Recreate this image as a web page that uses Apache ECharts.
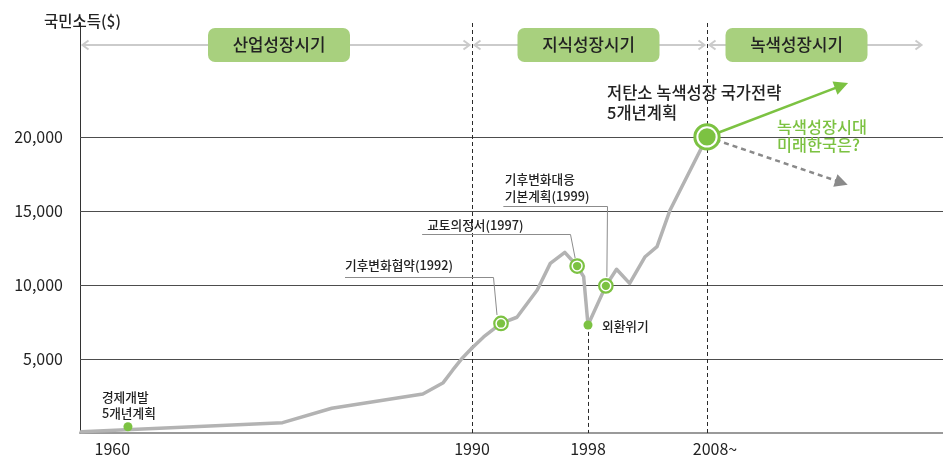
<!DOCTYPE html>
<html><head><meta charset="utf-8">
<script src="https://cdn.jsdelivr.net/npm/echarts@6/dist/echarts.min.js"></script>
<style>html,body{margin:0;padding:0;background:#fff}#c{width:943px;height:459px}</style>
</head><body><div id="c"></div>
<script>
// ---------------- data ----------------
const curveYears  = [1957.4, 1974.2, 1978.3, 1985.9, 1987.6, 1988.4, 1989.2, 1990, 1990.8, 1992, 1993.1, 1994.5, 1995.4, 1996.4, 1997.25, 1997.7, 1998, 1999.5, 2000.4, 2001.5, 2002.8, 2003.8, 2004.9, 2008];
const curveValues = [90, 700, 1670, 2640, 3400, 4260, 5070, 5740, 6490, 7400, 7820, 9660, 11460, 12200, 11280, 10560, 7300, 9940, 11060, 10110, 11910, 12590, 15070, 20000];
const yTicks = [5000, 10000, 15000, 20000];
const xTickYears = [1960, 1990, 1998, 2008];
const xTickLabels = ['1960', '1990', '1998', '2008~'];
const periodNames = ['산업성장시기', '지식성장시기', '녹색성장시기'];
const periodBreaks = [1990, 2008];
const milestoneYears  = [1992, 1997.25, 1999.5];
const milestoneValues = [7400, 11280, 9940];
const milestoneTexts  = ['기후변화협약(1992)', '교토의정서(1997)', '기후변화대응\n기본계획(1999)'];
const planYear = 1961.3, planValue = 420, planText = '경제개발\n5개년계획';
const crisisYear = 1998, crisisValue = 7300, crisisText = '외환위기';
const greenYear = 2008, greenValue = 20000, greenText = '저탄소 녹색성장 국가전략\n5개년계획';
const futureText = '녹색성장시대\n미래한국은?';
const futureUpEnd = [2019.4, 23470];
const futureDownEnd = [2019.4, 16920];
const yTitle = '국민소득($)';

// ---------------- layout / style ----------------
const FONT = "'Noto Sans CJK KR', 'Noto Sans', sans-serif";
const GREEN = '#7cc242';
const BOX_GREEN = '#a8d07e';
const CURVE = '#b3b3b3';
const segYears = [1957.3, 1990, 1998, 2008, 2028];   // piecewise axis ranges
const segPx = [80, 472, 588, 707, 943];
const GRID_TOP = 23, GRID_BOTTOM = 26, YMAX = 27700;

const segOf = y => { let k = 0; while (k < 3 && y > segYears[k + 1]) k++; return k; };
const segOfTick = y => { let k = 0; while (k < 3 && y >= segYears[k + 1]) k++; return k; };
const inSeg = (k, y) => y >= segYears[k] && y <= segYears[k + 1];

const curvePts = curveYears.map((y, i) => [y, curveValues[i]]);

const ringItems = milestoneYears.map((y, i) => ({ value: [y, milestoneValues[i]], symbolSize: 13.5, border: 2.2 }))
  .concat([{ value: [greenYear, greenValue], symbolSize: 24.3, border: 3 }]);
const dotItems = [{ value: [planYear, planValue], symbolSize: 9 }, { value: [crisisYear, crisisValue], symbolSize: 9 }]
  .concat(milestoneYears.map((y, i) => ({ value: [y, milestoneValues[i]], symbolSize: 8.3 })))
  .concat([{ value: [greenYear, greenValue], symbolSize: 17.3 }]);

const grids = [], xAxes = [], yAxes = [], series = [];
const dashed = { color: '#2a2a2a', width: 1, type: [4, 3] };
for (let k = 0; k < 4; k++) {
  grids.push({ left: segPx[k], width: segPx[k + 1] - segPx[k], top: GRID_TOP, bottom: GRID_BOTTOM, containLabel: false, outerBoundsMode: 'none' });
  const tickIdx = xTickYears.map((y, i) => i).filter(i => segOfTick(xTickYears[i]) === k);
  xAxes.push({
    gridIndex: k, type: 'value', min: segYears[k], max: segYears[k + 1],
    axisLine: { show: true, onZero: false, lineStyle: { color: '#9a9a9a', width: 2 } },
    axisTick: { show: false }, splitLine: { show: false },
    axisLabel: {
      show: tickIdx.length > 0,
      customValues: tickIdx.map(i => xTickYears[i]),
      formatter: v => { const i = xTickYears.indexOf(v); if (i < 0) return ''; return xTickLabels[i].includes('~') ? '{p|' + xTickLabels[i] + '}' : xTickLabels[i]; },
      rich: { p: { padding: [0, 0, 0, 16], fontSize: 16, color: '#222', fontFamily: FONT } },
      fontSize: 16, color: '#222', fontFamily: FONT, margin: 8
    }
  });
  yAxes.push({
    gridIndex: k, type: 'value', min: 0, max: YMAX, show: k === 0,
    axisLine: { show: true, lineStyle: { color: '#333', width: 1 } },
    axisTick: { show: false }, splitLine: { show: false },
    axisLabel: { customValues: yTicks, formatter: v => v.toLocaleString('en-US'), fontSize: 16, color: '#222', fontFamily: FONT, margin: 17 }
  });

  const ml = yTicks.map(v => ({ yAxis: v, lineStyle: { color: '#4d4d4d', width: 1, type: 'solid' } }));
  if (k === 1) ml.push({ xAxis: periodBreaks[0], lineStyle: dashed });
  if (k === 2) ml.push([{ coord: [crisisYear, crisisValue] }, { coord: [crisisYear, 0] , lineStyle: dashed}]);
  if (k === 3) {
    ml.push({ xAxis: periodBreaks[1], lineStyle: dashed });
    ml.push([{ coord: [greenYear, greenValue], symbol: 'none', lineStyle: { color: GREEN, width: 2.5, type: 'solid' } },
             { coord: futureUpEnd, symbol: 'triangle', symbolSize: 14 }]);
    ml.push([{ coord: [greenYear, greenValue], symbol: 'none', lineStyle: { color: '#8a8a8a', width: 2.5, type: [5, 4] } },
             { coord: futureDownEnd, symbol: 'triangle', symbolSize: 13 }]);
  }
  series.push({
    type: 'line', xAxisIndex: k, yAxisIndex: k, z: 3,
    data: curvePts.filter(p => inSeg(k, p[0])),
    symbol: 'none', showSymbol: false, silent: true,
    lineStyle: { color: CURVE, width: 3.5, cap: 'round', join: 'round' },
    markLine: { silent: true, z: 1, symbol: 'none', label: { show: false }, animation: false, data: ml }
  });
  series.push({
    type: 'scatter', xAxisIndex: k, yAxisIndex: k, z: 10, clip: false, silent: true,
    data: ringItems.filter(d => segOf(d.value[0]) === k).map(d => ({
      value: d.value, symbolSize: d.symbolSize,
      itemStyle: { color: '#fff', borderColor: GREEN, borderWidth: d.border, opacity: 1 }
    }))
  });
  series.push({
    type: 'scatter', xAxisIndex: k, yAxisIndex: k, z: 11, clip: false, silent: true,
    data: dotItems.filter(d => segOf(d.value[0]) === k).map(d => ({
      value: d.value, symbolSize: d.symbolSize, itemStyle: { color: GREEN, opacity: 1 }
    }))
  });
}

const chart = echarts.init(document.getElementById('c'), null, { renderer: 'canvas' });
chart.setOption({
  animation: false,
  backgroundColor: '#fff',
  textStyle: { fontFamily: FONT },
  title: { text: yTitle, left: 39, top: 8, textStyle: { fontSize: 15.5, fontWeight: 500, color: '#222', fontFamily: FONT } },
  grid: grids, xAxis: xAxes, yAxis: yAxes, series: series
});

// ---------- annotations anchored on data points ----------
const P = (y, v) => { const k = segOf(y); return chart.convertToPixel({ xAxisIndex: k, yAxisIndex: k }, [y, v]); };
const g = [];
const txt = (x, y, text, size, color, lh, align) => ({
  type: 'text', x: x, y: y, z: 20,
  style: { text: text, align: align || 'left', verticalAlign: 'middle', fontSize: size, fontWeight: 500, lineHeight: lh || Math.round(size * 1.3), fontFamily: FONT, fill: color }
});
// banner
const bandY = 45;
const edges = [segPx[0]].concat(periodBreaks.map(y => P(y, 0)[0])).concat([segPx[4] - 19]);
const labelShift = [3, -1, -19];
periodNames.forEach((name, i) => {
  const x0 = edges[i] + 2.5, x1 = edges[i + 1] - 2.5;
  const st = { stroke: '#cbcbcb', lineWidth: 2, fill: 'none' };
  g.push({ type: 'line', z: 5, shape: { x1: x0, y1: bandY, x2: x1, y2: bandY }, style: st });
  g.push({ type: 'polyline', z: 5, shape: { points: [[x0 + 6, bandY - 4.5], [x0, bandY], [x0 + 6, bandY + 4.5]] }, style: st });
  g.push({ type: 'polyline', z: 5, shape: { points: [[x1 - 6, bandY - 4.5], [x1, bandY], [x1 - 6, bandY + 4.5]] }, style: st });
  const cx = (x0 + x1) / 2 + labelShift[i];
  g.push({ type: 'rect', z: 9, shape: { x: cx - 71, y: bandY - 17, width: 142, height: 34, r: 7 }, style: { fill: BOX_GREEN } });
  g.push(txt(cx, bandY, name, 16.8, '#222', 20, 'center'));
});
// milestone leaders
const leaderLayout = [
  { tx: -156, ty: -58, sx: -156, ly: -46, kx: -8, ex: -4, ey: -8.5 },
  { tx: -150, ty: -41, sx: -155, ly: -32.5, kx: -7, ex: -2, ey: -8 },
  { tx: -101, ty: -98.5, sx: -102.5, ly: -80, kx: 1, ex: 1, ey: -9 }
];
milestoneYears.forEach((y, i) => {
  const [cx, cy] = P(y, milestoneValues[i]);
  const L = leaderLayout[i];
  const ly = Math.round(cy + L.ly) + 0.5;
  const kx = Math.round(cx + L.kx) + 0.5;
  g.push({ type: 'polyline', z: 4, shape: { points: [[cx + L.sx, ly], [kx, ly], [cx + L.ex, cy + L.ey]] }, style: { stroke: '#8c8c8c', lineWidth: 1, fill: 'none' } });
  g.push(txt(cx + L.tx, cy + L.ty, milestoneTexts[i], 12.7, '#222', 17));
});
{ const [cx, cy] = P(planYear, planValue); g.push(txt(cx - 26, cy - 22, planText, 12.7, '#222', 16)); }
{ const [cx, cy] = P(crisisYear, crisisValue); g.push(txt(cx + 14, cy + 1, crisisText, 12.7, '#222', 16)); }
{ const [cx, cy] = P(greenYear, greenValue);
  g.push(txt(cx - 100, cy - 34.25, greenText, 16.5, '#222', 19.5));
  g.push(txt(cx + 70, cy - 1, futureText, 16.3, GREEN, 18.5)); }
chart.setOption({ graphic: g });
</script>
</body></html>
